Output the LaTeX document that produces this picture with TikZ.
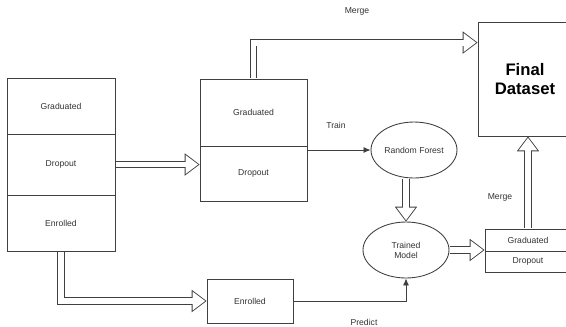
\documentclass[tikz,border=0pt]{standalone}
\usepackage{fontspec}
\setmainfont{Liberation Sans}
\usetikzlibrary{shapes,shapes.geometric,arrows.meta,calc}

\begin{document}
\begin{tikzpicture}
	[x=0.02cm,y=-0.02cm,line width=0.5pt,draw=black!75,
	every node/.style={inner sep=0pt,text=black!80,font=\fontsize{4.9}{5.6}\selectfont},
	cell/.style={shape=rectangle,draw=black!75},
	oval/.style={shape=ellipse,draw=black!75,minimum width=1.72cm,minimum height=1.12cm},
	fat/.style={draw=black!75,line width=4.4pt,line join=miter,shorten <=0.25pt,
		-{Triangle[length=8.5pt,width=12.8pt,line width=0pt]},
		postaction={draw=white,line width=3.4pt,line join=miter,shorten <=0.25pt,shorten >=0.83pt,
			-{Triangle[length=7.17pt,width=10.8pt,line width=0pt,color=white]}}},
	thin/.style={draw=black!75,-{Latex[length=4pt,width=3.5pt]}}]
		\useasboundingbox (0,0) rectangle (566,326);

		\node[cell,minimum width=2.16cm,minimum height=1.12cm] (lg) at (61,106) {Graduated};
		\node[cell,minimum width=2.16cm,minimum height=1.22cm] (ld) at (61,164.5) {Dropout};
		\node[cell,minimum width=2.16cm,minimum height=1.12cm] (le) at (61,223) {Enrolled};

		\node[cell,minimum width=2.14cm,minimum height=1.34cm] (mg) at (253.5,112.5) {Graduated};
		\node[cell,minimum width=2.14cm,minimum height=1.1cm] (md) at (253.5,173.5) {Dropout};

		\node[cell,minimum width=1.88cm,minimum height=2.28cm,text=black,align=center,
			font=\bfseries\fontsize{9.5}{10.8}\selectfont] (fd) at (525,79) {Final\\Dataset};

		\node[oval] (rf) at (414,150) {Random Forest};
		\node[oval,align=center] (tm) at (406,250) {Trained\\Model};

		\node[cell,minimum width=1.72cm,minimum height=0.44cm] (sg) at (528,240) {Graduated};
		\node[cell,minimum width=1.72cm,minimum height=0.42cm] (sd) at (528,261.5) {Dropout};

		\node[cell,minimum width=1.72cm,minimum height=0.88cm] (en) at (250,301) {Enrolled};

		\node (merge1) at (357,11) {Merge};
		\node (train) at (336,125) {Train};
		\node (merge2) at (500,197) {Merge};
		\node (predict) at (364,322) {Predict};

		\draw[fat] (ld.east) -- (ld.east -| mg.west);
		\draw[fat] (mg.north) |- ([yshift=-0.42cm]fd.north west);
		\draw[fat] (tm.north |- rf.south) -- (tm.north);
		\draw[fat] (tm.east) -- (tm.east -| sg.west);
		\draw[fat] (sg.north) -- (sg.north |- fd.south);
		\draw[fat] (le.south) |- (en.west);

		\draw[thin] (rf.west -| md.east) -- (rf.west);
		\draw[thin] (en.east) -| (tm.south);
	\end{tikzpicture}
\end{document}
